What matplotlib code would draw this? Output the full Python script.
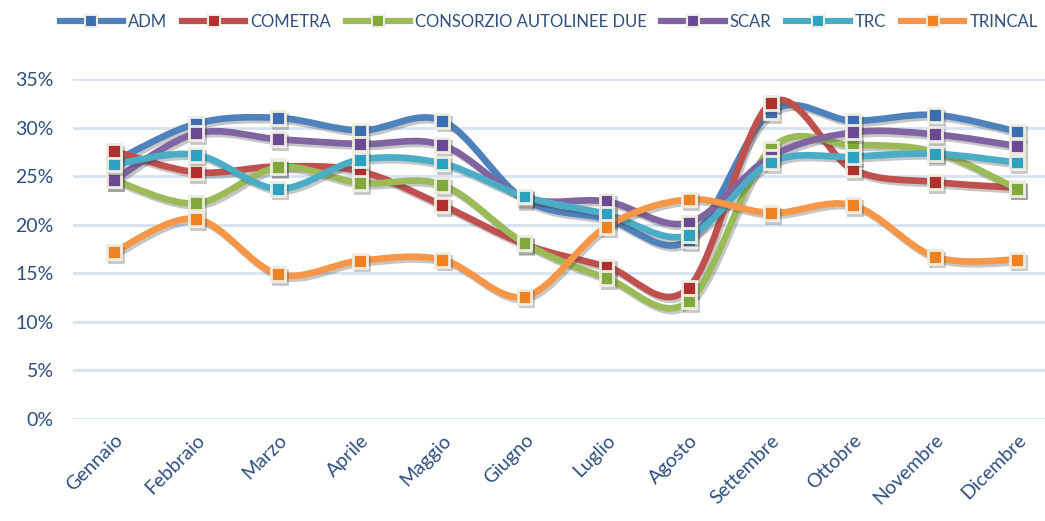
import numpy as np
import matplotlib
matplotlib.use("Agg")
import matplotlib.pyplot as plt
from matplotlib.path import Path
from matplotlib.patches import PathPatch
from matplotlib.lines import Line2D
import matplotlib.patheffects as pe

plt.rcParams['font.family'] = ['Lato', 'DejaVu Sans']

mesi = ['Gennaio', 'Febbraio', 'Marzo', 'Aprile', 'Maggio', 'Giugno',
        'Luglio', 'Agosto', 'Settembre', 'Ottobre', 'Novembre', 'Dicembre']

adm = [26.5, 30.4, 31.0, 29.7, 30.7, 22.6, 20.6, 18.4, 31.6, 30.7, 31.3, 29.6]
cometra = [27.6, 25.4, 26.0, 25.5, 22.0, 18.0, 15.7, 13.5, 32.5, 25.7, 24.4, 23.8]
consorzio = [24.6, 22.2, 25.9, 24.3, 24.1, 18.1, 14.5, 12.1, 27.8, 28.2, 27.5, 23.7]
scar = [24.6, 29.4, 28.8, 28.3, 28.2, 22.8, 22.4, 20.2, 27.0, 29.5, 29.3, 28.1]
trc = [26.2, 27.2, 23.7, 26.7, 26.3, 22.9, 21.1, 18.9, 26.4, 27.0, 27.3, 26.4]
trincal = [17.2, 20.6, 14.9, 16.3, 16.4, 12.6, 19.8, 22.6, 21.2, 22.0, 16.7, 16.4]

serie = [('ADM', adm, '#4F81BD', '#3B6DB0'),
         ('COMETRA', cometra, '#C0504D', '#B0302D'),
         ('CONSORZIO AUTOLINEE DUE', consorzio, '#9BBB59', '#80A83C'),
         ('SCAR', scar, '#8064A2', '#6A4A92'),
         ('TRC', trc, '#4BACC6', '#2EA0C0'),
         ('TRINCAL', trincal, '#F79646', '#EE8120')]

testo = '#2F4F7F'


def curva(x, y):
    # smooth line as cubic bezier segments (catmull-rom style, like excel)
    pts = np.column_stack([x, y]).astype(float)
    n = len(pts)
    verts = [pts[0]]
    codes = [Path.MOVETO]
    for i in range(n - 1):
        p0 = pts[i - 1] if i > 0 else pts[i]
        p1 = pts[i]
        p2 = pts[i + 1]
        p3 = pts[i + 2] if i + 2 < n else pts[i + 1]
        c1 = p1 + (p2 - p0) / 6.0
        c2 = p2 - (p3 - p1) / 6.0
        verts += [c1, c2, p2]
        codes += [Path.CURVE4] * 3
    return Path(verts, codes)


fig = plt.figure(figsize=(10.45, 5.21), dpi=100)
ax = fig.add_axes([73 / 1045, 1 - 419 / 521, (1058 - 73) / 1045, 340 / 521])

x = np.arange(len(mesi))
ombra = [pe.SimpleLineShadow(offset=(1.5, -2), alpha=0.3, shadow_color='#444444'), pe.Normal()]

for nome, val, col, colm in serie:
    patch = PathPatch(curva(x, val), facecolor='none', edgecolor=col, lw=4.8,
                      capstyle='round', joinstyle='round', zorder=3)
    patch.set_path_effects(ombra)
    ax.add_patch(patch)
    ax.plot(x, val, ls='none', marker='s', ms=10, mfc=colm, mec='#EEECE1', mew=2,
            zorder=4, path_effects=ombra)

ax.set_xlim(-0.5, len(mesi) - 0.5)
ax.set_ylim(0, 35)
ax.set_yticks(np.arange(0, 36, 5))
ax.set_yticklabels([f'{v}%' for v in range(0, 36, 5)])
ax.set_xticks(x)
ax.set_xticklabels(mesi, rotation=45, ha='right', rotation_mode='anchor')
ax.grid(axis='y', color='#D6E2F2', lw=2)
ax.set_axisbelow(True)
for s in ax.spines.values():
    s.set_visible(False)
ax.tick_params(axis='both', length=0, colors=testo, labelsize=14)
ax.tick_params(axis='y', pad=14)
ax.tick_params(axis='x', pad=9)

handles = [Line2D([], [], color=col, lw=4.5, marker='s', ms=8, mfc=colm, mec='#EEECE1', mew=1.5)
           for nome, val, col, colm in serie]
leg = fig.legend(handles, [s[0] for s in serie], loc='center', bbox_to_anchor=(0.525, 1 - 22 / 521),
                 ncol=6, frameon=False, fontsize=12, handlelength=3.8, handletextpad=0.3,
                 columnspacing=0.9, labelcolor=testo)

fig.savefig('out.png', dpi=100)
